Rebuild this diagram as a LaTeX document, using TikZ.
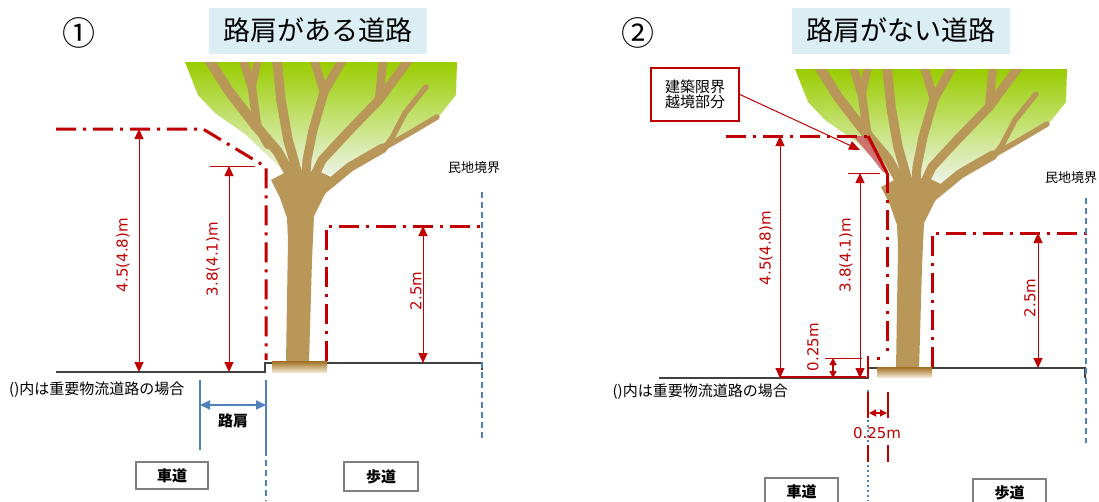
\documentclass[tikz,border=0pt]{standalone}
\usepackage{fontspec}
\setmainfont{Noto Sans CJK JP}
\newfontfamily\lblfont{DejaVu Sans}
\usetikzlibrary{arrows.meta}
\newcommand\fsz[1]{\fontsize{#1}{#1}\selectfont}
\definecolor{cred}{RGB}{192,0,0}
\definecolor{brn}{RGB}{185,151,88}
\definecolor{leafg}{RGB}{153,204,0}
\definecolor{leafm}{RGB}{198,226,120}
\definecolor{leafw}{RGB}{240,245,240}
\definecolor{gnd}{RGB}{64,64,64}
\definecolor{cblue}{RGB}{79,129,189}
\definecolor{tbox}{RGB}{218,238,243}
\definecolor{gbox}{RGB}{128,128,128}
\definecolor{pinkz}{RGB}{205,95,105}
\definecolor{basetop}{RGB}{160,110,30}
\definecolor{basebot}{RGB}{240,228,205}
\newcommand\mytree{%
  \shade[top color=leafg, bottom color=leafw, middle color=leafm]
    (185,62) -- (457,62) -- (456,95) -- (440,115) -- (410,132) -- (375,150) -- (345,168)
    -- (320,180) -- (290,178) -- (270,158) -- (245,134) -- (215,113) -- (198,95) -- cycle;
  \begin{scope}
    \clip (150,62) rectangle (480,400);
    \begin{scope}[brn, line join=round, line cap=round]
      \draw[line width=10pt] (203,50) -- (228,90) -- (255,125) -- (278,152) -- (296,185);
      \draw[line width=8.5pt] (240,50) -- (252,88) -- (257,125) -- (268,145);
      \draw[line width=7.5pt] (260,50) -- (252,88);
      \draw[line width=9.5pt] (276,50) -- (281,100) -- (288,140) -- (298,175);
      \draw[line width=8.5pt] (311,50) -- (324,92);
      \draw[line width=9pt] (348,50) -- (324,92) -- (313,130) -- (307,160) -- (305,185);
      \draw[line width=8.5pt] (384,50) -- (379,100);
      \draw[line width=9pt] (416,50) -- (379,100) -- (348,132) -- (322,160) -- (310,185);
      \draw[line width=5.5pt] (426,87) -- (405,113) -- (392,138) -- (383,150);
      \draw[line width=5.5pt] (437,117) -- (410,133) -- (380,150);
      \draw[line width=9.5pt] (383,148) -- (350,167) -- (322,190) -- (305,205);
      \fill (286,363) -- (287,300) -- (288,240) -- (287,218) -- (280,198) -- (271,180)
        -- (286,172) -- (300,174) -- (316,170) -- (333,178) -- (324,196) -- (314,216)
        -- (312,260) -- (309,363) -- cycle;
    \end{scope}
  \end{scope}
}
\begin{document}
\begin{tikzpicture}[x=1pt,y=-1pt,
  dashdot/.style={cred,line width=3pt,dash pattern=on 20pt off 7pt on 3pt off 7pt},
  thinred/.style={cred,line width=1pt},
  dimarrow/.style={thinred,{Triangle[length=10pt,width=9pt]}-{Triangle[length=10pt,width=9pt]}},
  smallarrow/.style={thinred,line width=1.2pt,{Triangle[length=7pt,width=7pt]}-{Triangle[length=7pt,width=7pt]}},
  redlbl/.style={text=cred,font=\lblfont\fsz{15},inner sep=0pt},
  groundline/.style={gnd,line width=2.8pt},
  bluedash/.style={cblue,line width=1.6pt,dash pattern=on 6pt off 4pt},
  bluedot/.style={cblue,line width=1.4pt,dash pattern=on 2pt off 3pt},
  titlebox/.style={fill=tbox,minimum width=218pt,minimum height=46pt,font=\fsz{27},inner sep=0pt},
  numlbl/.style={font=\fsz{33},inner sep=0pt},
  labbox/.style={draw=gbox,line width=2pt,fill=white,minimum width=73pt,minimum height=28pt,font=\bfseries\fsz{15},inner sep=0pt},
  smalltxt/.style={font=\fsz{13},inner sep=0pt},
  notetxt/.style={font=\fsz{15},inner sep=0pt},
]
\useasboundingbox (0,0) rectangle (1099,501);
\clip (0,0) rectangle (1099,501);
\fill[white] (0,0) rectangle (1099,501);

% ================= LEFT PANEL =================
\node[numlbl] (num1) at (79,33) {①};
\node[titlebox] (title1) at (317.5,30.5) {路肩がある道路};
\mytree
\draw[groundline] (56,372) -- (265,372) -- (265,363) -- (482,363) -- (482,370);
\shade[top color=basetop, bottom color=basebot] (272,361) rectangle (327,372);
\draw[dashdot] (56,129) -- (203,129) -- (266,167) -- (266,360);
\draw[dashdot] (326,361) -- (326,226) -- (482,226);
\coordinate (l45b) at (139,372); \coordinate (l45t) at (139,129);
\coordinate (l38b) at (229,372); \coordinate (l38t) at (229,166);
\coordinate (l25b) at (423,363); \coordinate (l25t) at (423,226);
\coordinate (l38l) at (210,166); \coordinate (l38r) at (255,166);
\draw[dimarrow] (l45b) -- (l45t);
\draw[thinred] (l38l) -- (l38r);
\draw[dimarrow] (l38b) -- (l38t);
\draw[dimarrow] (l25b) -- (l25t);
\node[redlbl,rotate=90] (lab45l) at (123,255) {4.5(4.8)m};
\node[redlbl,rotate=90] (lab38l) at (213,259) {3.8(4.1)m};
\node[redlbl,rotate=90] (lab25l) at (416,291) {2.5m};
\node[smalltxt] (minchi1) at (474,168) {民地境界};
\coordinate (bd1t) at (482,192); \coordinate (bd1b) at (482,440);
\draw[bluedash] (bd1t) -- (bd1b);
\node[notetxt,anchor=west] (note1) at (9,390) {()内は重要物流道路の場合};
\coordinate (sh1) at (200,380); \coordinate (sh1b) at (200,450);
\coordinate (sh2) at (266,380); \coordinate (sh2b) at (266,450);
\coordinate (sh2e) at (266,501);
\draw[cblue,line width=2pt] (sh1) -- (sh1b);
\draw[cblue,line width=2pt] (sh2) -- (sh2b);
\draw[bluedash] (sh2b) -- (sh2e);
\draw[cblue,line width=2pt,{Triangle[length=10pt,width=9pt]}-{Triangle[length=10pt,width=9pt]}] (200,405) -- (266,405);
\node[font=\bfseries\fsz{15},inner sep=0pt] (rokata) at (233,421) {路肩};
\node[labbox,minimum width=72pt,minimum height=27pt] (sha1) at (172,475.5) {車道};
\node[labbox,minimum width=74pt,minimum height=29pt] (ho1) at (381,476.5) {歩道};

% ================= RIGHT PANEL =================
\node[numlbl] (num2) at (638,33) {②};
\node[titlebox] (title2) at (901,30.5) {路肩がない道路};
\begin{scope}[shift={(610,7)}]
\mytree
\end{scope}
\draw[groundline] (659,378) -- (868,378) -- (868,368) -- (1085,368) -- (1085,378);
\shade[top color=basetop, bottom color=basebot] (877,367) rectangle (932,377);
\fill[pinkz,opacity=0.85] (853,136) -- (868,136) -- (887,173) -- (883,172) -- (872,158) -- (862,146) -- cycle;
\draw[dashdot] (726,136) -- (868,136);
\draw[cred,line width=3pt] (868,136) -- (887,173);
\draw[dashdot] (887,173) -- (887,357);
\draw[cred,line width=3pt] (877,358) -- (880,358);
\draw[cred,line width=2.5pt] (868,356) -- (868,378);
\draw[dashdot] (932,367) -- (932,233) -- (1088,233);
\draw[cred,line width=1.3pt] (780,377) -- (866,377);
\coordinate (r45b) at (780,378); \coordinate (r45t) at (780,136);
\coordinate (r38b) at (860,378); \coordinate (r38t) at (860,173);
\coordinate (r25b) at (1038,368); \coordinate (r25t) at (1038,233);
\coordinate (r02b) at (833,378); \coordinate (r02t) at (833,358);
\draw[dimarrow] (r45b) -- (r45t);
\draw[thinred] (848,173) -- (880,173);
\draw[dimarrow] (r38b) -- (r38t);
\draw[thinred] (825,358) -- (862,358);
\draw[smallarrow] (r02b) -- (r02t);
\draw[dimarrow] (r25b) -- (r25t);
\node[redlbl,rotate=90] (lab45r) at (766,248) {4.5(4.8)m};
\node[redlbl,rotate=90] (lab38r) at (846,255) {3.8(4.1)m};
\node[redlbl,rotate=90] (lab02r) at (813,347) {0.25m};
\node[redlbl,rotate=90] (lab25r) at (1030,298) {2.5m};
\node[draw=cred,line width=1.8pt,fill=white,minimum width=88pt,minimum height=53pt,align=center,font=\fsz{15},inner sep=0pt] (callout) at (695,94.5) {\fontsize{15}{20}\selectfont 建築限界\\越境部分};
\coordinate (ctip) at (860,150);
\draw[thinred,line width=1pt,-{Triangle[length=11pt,width=9pt]}] (callout.east) -- (ctip);
\node[smalltxt] (minchi2) at (1071,178) {民地境界};
\coordinate (bd2t) at (1086,198); \coordinate (bd2b) at (1086,443);
\draw[bluedash] (bd2t) -- (bd2b);
\node[notetxt,anchor=east] (note2) at (788,392) {()内は重要物流道路の場合};
\coordinate (dt) at (868,390); \coordinate (db) at (868,501);
\draw[bluedot] (dt) -- (db);
\draw[cred,line width=2pt] (868,392) -- (868,418);
\draw[cred,line width=2pt] (888,392) -- (888,418);
\draw[smallarrow] (869,413) -- (887,413);
\node[redlbl] (lab02h) at (877,433) {0.25m};
\draw[cred,line width=2pt] (868,445) -- (868,462);
\draw[cred,line width=2pt] (888,445) -- (888,462);
\node[labbox] (sha2) at (801.5,492) {車道};
\node[labbox] (ho2) at (1009.5,493) {歩道};
\end{tikzpicture}
\end{document}
